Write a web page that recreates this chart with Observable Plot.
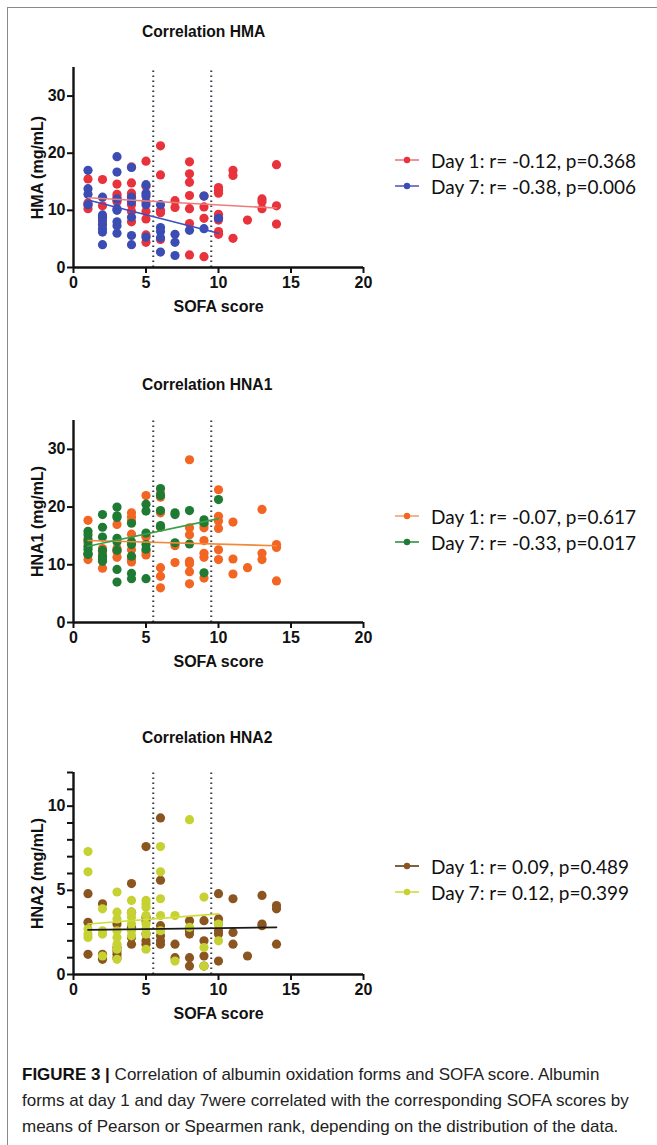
<!DOCTYPE html>
<html>
<head>
<meta charset="utf-8">
<script src="https://cdn.jsdelivr.net/npm/d3@7"></script>
<script src="https://cdn.jsdelivr.net/npm/@observablehq/plot@0.6"></script>
<style>
  html, body { margin: 0; padding: 0; background: #fff; }
  #page { position: relative; width: 657px; height: 1145px; overflow: hidden; font-family: "Liberation Sans", Arial, sans-serif; }
  .frame-top { position: absolute; left: 7px; top: 7px; width: 660px; height: 0; border-top: 1.5px solid #8a8a8a; }
  .frame-left { position: absolute; left: 7px; top: 7px; width: 0; height: 1150px; border-left: 1.5px solid #8a8a8a; }
  .title { position: absolute; left: 142px; font-weight: bold; font-size: 17px; color: #111; white-space: nowrap; transform: scaleX(0.92); transform-origin: left center; }
  .panel { position: absolute; left: 0; }
  .legend { position: absolute; left: 394px; font-family: Lato, "Open Sans", sans-serif; font-size: 19px; color: #111; }
  .legend .row { display: flex; align-items: center; height: 26px; white-space: nowrap; }
  .legend svg { margin-right: 11px; }
  .caption { position: absolute; left: 22px; top: 1062px; width: 635px; font-size: 17px; line-height: 26px; color: #222; font-family: "Liberation Sans", Arial, sans-serif; }
  .caption .ln { display: block; white-space: nowrap; transform-origin: left center; }
  .caption b { font-weight: bold; color: #111; }
</style>
</head>
<body>
<div id="page">
  <div class="frame-top"></div>
  <div class="frame-left"></div>
</div>
<script>
// ---------- DATA ----------
const xLabel = "SOFA score";
const cutoffs = [5.5, 9.5];

// Panel 1: HMA
const hmaTitle = "Correlation HMA";
const hmaYLabel = "HMA (mg/mL)";
const hmaDay1 = [
  [1,15.5],[1,11.3],[1,11],[1,10.3],
  [2,15.4],[2,10.8],[2,7.8],
  [3,14.6],[3,12.8],[3,12.4],[3,11.8],[3,11.5],
  [4,17.6],[4,14.8],[4,13],[4,12.5],[4,11],[4,9.8],[4,8],
  [5,18.6],[5,14.2],[5,11.5],[5,9.8],[5,8.5],[5,5.7],[5,4.4],
  [6,21.3],[6,16.2],[6,10],[6,9.6],[6,4.9],
  [7,11.7],[7,10.5],
  [8,18.5],[8,16.4],[8,14.9],[8,12.6],[8,10.3],[8,7.7],[8,2.2],
  [9,12.5],[9,10.6],[9,8.6],[9,1.9],
  [10,14],[10,13.5],[10,13],[10,9.3],[10,8.7],[10,8.3],[10,6.3],[10,5.8],
  [11,17],[11,16.1],[11,5.1],
  [12,8.3],
  [13,12],[13,11.5],[13,10.3],
  [14,18],[14,10.8],[14,7.6]
];
const hmaDay7 = [
  [1,17],[1,13.8],[1,12.8],[1,11],
  [2,12.3],[2,9.2],[2,8.8],[2,8.3],[2,7.5],[2,6.8],[2,6.2],[2,4],
  [3,19.4],[3,16.7],[3,12],[3,10.3],[3,10],[3,8],[3,7.3],[3,6],
  [4,17.5],[4,12.3],[4,11.5],[4,8.8],[4,5.6],[4,4],
  [5,14.5],[5,13],[5,12.5],[5,11],[5,5.3],
  [6,11],[6,7],[6,6.3],[6,5.2],[6,2.7],
  [7,5.8],[7,4.4],[7,2.1],
  [8,6.5],
  [9,12.5],[9,6.8],
  [10,8.6]
];
const hmaFitDay1 = [[1,12.2],[14,10.4]];
const hmaFitDay7 = [[1,11.8],[10,6.0]];
const hmaLegend = ["Day 1: r= -0.12, p=0.368", "Day 7: r= -0.38, p=0.006"];

// Panel 2: HNA1
const hna1Title = "Correlation HNA1";
const hna1YLabel = "HNA1 (mg/mL)";
const hna1Day1 = [
  [1,17.7],[1,14.5],[1,13.8],[1,11.8],[1,10.9],
  [2,12.8],[2,12.4],[2,12],[2,9.4],
  [3,17],[3,12.8],[3,12.3],[3,11.3],
  [4,19],[4,18.3],[4,17.6],[4,15.3],[4,12.6],[4,11],[4,10.5],
  [5,22],[5,15],[5,14.8],[5,12.3],[5,11.7],
  [6,22.4],[6,21.7],[6,19],[6,16.5],[6,9.5],[6,8],[6,6],
  [7,13.7],[7,13.3],[7,10.4],
  [8,28.2],[8,16.4],[8,15.2],[8,10.6],[8,10.2],[8,8.8],[8,6.7],
  [9,17],[9,16.4],[9,14.2],[9,12],[9,11.3],[9,7.7],
  [10,23],[10,18.4],[10,17.6],[10,16.3],[10,12.6],[10,10.9],
  [11,17.4],[11,11],[11,8.4],
  [12,9.5],
  [13,19.6],[13,12],[13,10.9],
  [14,13.5],[14,13],[14,7.2]
];
const hna1Day7 = [
  [1,15.8],[1,15.2],[1,14.2],[1,13.2],[1,12.7],[1,12],[1,11.8],
  [2,18.7],[2,16.5],[2,14.8],[2,12.5],[2,11.5],[2,11],[2,10.6],
  [3,20],[3,18.5],[3,18.2],[3,14.6],[3,14],[3,12.5],[3,9.2],[3,7],
  [4,17.2],[4,14],[4,13.5],[4,11.5],[4,8.5],[4,7.6],
  [5,20.5],[5,19.3],[5,15.5],[5,13.5],[5,12.7],[5,7.6],
  [6,23.2],[6,22],[6,19.4],[6,16.8],[6,16.6],
  [7,19],[7,18.7],[7,13.8],
  [8,19.4],[8,13.6],
  [9,17.8],[9,17.3],[9,8.6],
  [10,21.3]
];
const hna1FitDay1 = [[1,14.2],[14,13.3]];
const hna1FitDay7 = [[1,13.2],[10,18.0]];
const hna1Legend = ["Day 1: r= -0.07, p=0.617", "Day 7: r= -0.33, p=0.017"];

// Panel 3: HNA2
const hna2Title = "Correlation HNA2";
const hna2YLabel = "HNA2 (mg/mL)";
const hna2Day1 = [
  [1,4.8],[1,3.1],[1,1.2],
  [2,4.2],[2,1.2],[2,1.0],[2,0.9],
  [3,3.0],[3,1.6],[3,1.4],[3,1.2],[3,1.0],
  [4,5.4],[4,3.7],[4,2.8],[4,2.2],[4,1.8],
  [5,7.6],[5,3.4],[5,3.2],[5,2.4],[5,2.0],[5,1.8],
  [6,9.3],[6,5.6],[6,2.9],[6,2.3],[6,2.0],[6,1.8],
  [7,1.8],[7,1.0],
  [8,3.2],[8,2.6],[8,2.4],[8,1.0],[8,0.5],
  [9,3.2],[9,2.0],[9,1.1],[9,0.5],
  [10,4.8],[10,3.3],[10,3.0],[10,2.6],[10,2.4],[10,0.8],
  [11,4.5],[11,2.5],[11,1.8],
  [12,1.1],
  [13,4.7],[13,3.0],[13,2.9],
  [14,4.1],[14,3.9],[14,1.8]
];
const hna2Day7 = [
  [1,7.3],[1,6.1],[1,2.7],[1,2.4],[1,2.2],
  [2,3.9],[2,2.6],[2,2.4],[2,1.1],
  [3,4.9],[3,3.7],[3,3.3],[3,2.6],[3,2.2],[3,1.8],[3,1.5],[3,0.9],
  [4,4.4],[4,3.7],[4,3.4],[4,3.0],[4,2.6],[4,2.3],
  [5,4.4],[5,4.2],[5,4.0],[5,3.5],[5,3.0],[5,2.7],[5,2.4],[5,1.5],
  [6,7.6],[6,6.1],[6,4.5],[6,3.5],[6,2.6],
  [7,3.5],[7,0.8],
  [8,9.2],[8,2.8],
  [9,4.6],[9,1.6],[9,0.5],
  [10,3.0],[10,2.0]
];
const hna2FitDay1 = [[1,2.65],[14,2.8]];
const hna2FitDay7 = [[1,3.0],[10,3.6]];
const hna2Legend = ["Day 1: r= 0.09, p=0.489", "Day 7: r= 0.12, p=0.399"];

const captionLines = [
  "<b>FIGURE 3 |</b> Correlation of albumin oxidation forms and SOFA score. Albumin",
  "forms at day 1 and day 7were correlated with the corresponding SOFA scores by",
  "means of Pearson or Spearmen rank, depending on the distribution of the data."
];

// ---------- DRAW ----------
const page = document.getElementById("page");
const FONT = '"Liberation Sans", Arial, sans-serif';

function panel(cfg) {
  const t = document.createElement("div");
  t.className = "title";
  t.style.top = cfg.titleTop + "px";
  t.textContent = cfg.title;
  page.appendChild(t);

  const toObj = a => a.map(([x, y]) => ({x, y}));
  const yTicks = d3.range(0, cfg.yMax + 0.001, cfg.minor);
  const chart = Plot.plot({
    width: 380,
    height: cfg.height,
    marginLeft: 73,
    marginRight: 17,
    marginTop: cfg.marginTop,
    marginBottom: 55,
    style: {fontFamily: FONT, fontWeight: "bold", fontSize: "16px", color: "#111", background: "transparent", overflow: "visible"},
    x: {domain: [0, 20]},
    y: {domain: [0, cfg.yMax]},
    marks: [
      Plot.ruleX(cutoffs, {y1: 0, y2: cfg.yMax, stroke: "#333a4a", strokeWidth: 2, strokeDasharray: "1.6,3.4"}),
      Plot.dot(toObj(cfg.day1), {x: "x", y: "y", r: 4.6, fill: cfg.c1, stroke: "none"}),
      Plot.dot(toObj(cfg.day7), {x: "x", y: "y", r: 4.6, fill: cfg.c7, stroke: "none"}),
      Plot.line(toObj(cfg.fit1), {x: "x", y: "y", stroke: cfg.l1, strokeWidth: 1.6}),
      Plot.line(toObj(cfg.fit7), {x: "x", y: "y", stroke: cfg.l7, strokeWidth: 1.6}),
      Plot.axisX({ticks: [0, 5, 10, 15, 20], tickSize: 6, tickPadding: 3, strokeWidth: 2, label: xLabel, labelAnchor: "center", labelArrow: "none", labelOffset: 44}),
      Plot.axisY({ticks: yTicks, tickSize: 6, tickPadding: 2, strokeWidth: 2,
        tickFormat: d => (d % cfg.major === 0 ? d : ""),
        label: cfg.yLabel, labelAnchor: "center", labelArrow: "none", labelOffset: 42}),
      Plot.ruleY([0], {stroke: "#111", strokeWidth: 2.4}),
      Plot.ruleX([0], {y1: 0, y2: cfg.yMax, stroke: "#111", strokeWidth: 2.4})
    ]
  });
  chart.classList.add("panel");
  chart.style.position = "absolute";
  chart.style.top = cfg.top + "px";
  chart.style.left = "0px";
  page.appendChild(chart);

  const lg = document.createElement("div");
  lg.className = "legend";
  lg.style.top = cfg.legendTop + "px";
  [[cfg.legend[0], cfg.l1Legend, cfg.c1], [cfg.legend[1], cfg.l7Legend, cfg.c7]].forEach(([txt, lc, dc]) => {
    const row = document.createElement("div");
    row.className = "row";
    row.innerHTML = `<svg width="26" height="10"><line x1="1" y1="5" x2="25" y2="5" stroke="${lc}" stroke-width="1.6"/><circle cx="13" cy="5" r="3.2" fill="${dc}"/></svg><span>${txt}</span>`;
    lg.appendChild(row);
  });
  page.appendChild(lg);
}

panel({title: hmaTitle, titleTop: 22, top: 50, marginTop: 17, height: 272, yMax: 35, major: 10, minor: 10,
  yLabel: hmaYLabel, day1: hmaDay1, day7: hmaDay7, fit1: hmaFitDay1, fit7: hmaFitDay7,
  c1: "#e8323c", c7: "#3b4db3", l1: "#f07a7a", l7: "#3b4fc0", l1Legend: "#f07a7a", l7Legend: "#5060c0",
  legend: hmaLegend, legendTop: 147});

panel({title: hna1Title, titleTop: 375, top: 403, marginTop: 17, height: 274, yMax: 35, major: 10, minor: 10,
  yLabel: hna1YLabel, day1: hna1Day1, day7: hna1Day7, fit1: hna1FitDay1, fit7: hna1FitDay7,
  c1: "#f26522", c7: "#1f7a34", l1: "#f08a3a", l7: "#3aa048", l1Legend: "#f5a070", l7Legend: "#2f8f45",
  legend: hna1Legend, legendTop: 503});

panel({title: hna2Title, titleTop: 728, top: 755, marginTop: 17, height: 274, yMax: 12, major: 5, minor: 1,
  yLabel: hna2YLabel, day1: hna2Day1, day7: hna2Day7, fit1: hna2FitDay1, fit7: hna2FitDay7,
  c1: "#8a5520", c7: "#c6d233", l1: "#1a1a1a", l7: "#cfdc3a", l1Legend: "#5a3a18", l7Legend: "#cfdc3a",
  legend: hna2Legend, legendTop: 853});

const cap = document.createElement("div");
cap.className = "caption";
const capTargets = [598, 610, 605];
captionLines.forEach((html, i) => {
  const s = document.createElement("span");
  s.className = "ln";
  s.innerHTML = html;
  cap.appendChild(s);
});
page.appendChild(cap);
// condense each caption line to the reference's line length
cap.querySelectorAll(".ln").forEach((s, i) => {
  s.style.display = "inline-block";
  const w = s.getBoundingClientRect().width;
  s.style.display = "block";
  s.style.transform = `scaleX(${Math.min(1, capTargets[i] / w)})`;
});
</script>
</body>
</html>
